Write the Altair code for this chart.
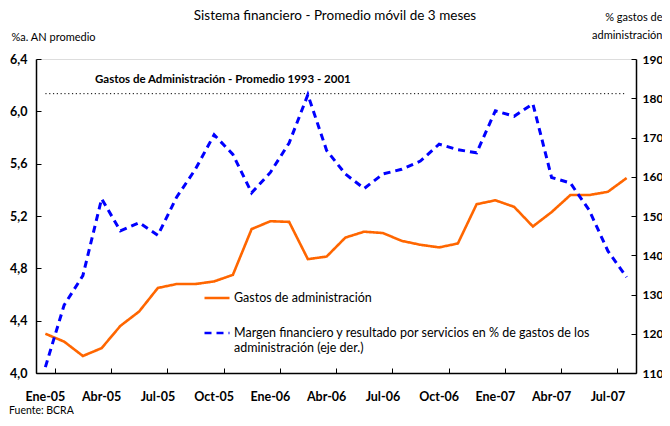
import altair as alt
import pandas as pd

FONT = "Lato"

meses = ["Ene-05", "Feb-05", "Mar-05", "Abr-05", "May-05", "Jun-05", "Jul-05", "Ago-05",
         "Sep-05", "Oct-05", "Nov-05", "Dic-05", "Ene-06", "Feb-06", "Mar-06", "Abr-06",
         "May-06", "Jun-06", "Jul-06", "Ago-06", "Sep-06", "Oct-06", "Nov-06", "Dic-06",
         "Ene-07", "Feb-07", "Mar-07", "Abr-07", "May-07", "Jun-07", "Jul-07", "Ago-07"]

gastos = [4.30, 4.24, 4.13, 4.19, 4.36, 4.47, 4.65, 4.68, 4.68, 4.70, 4.75, 5.10,
          5.16, 5.155, 4.87, 4.89, 5.035, 5.08, 5.07, 5.01, 4.98, 4.96, 4.99, 5.29,
          5.32, 5.27, 5.12, 5.23, 5.36, 5.36, 5.385, 5.49]

margen = [111.5, 127.3, 134.8, 154.4, 146.2, 148.3, 145.1, 154.8, 161.9, 170.7, 165.7, 155.9,
          161.1, 168.6, 180.9, 166.7, 160.7, 157.0, 160.7, 161.9, 164.0, 168.3, 166.9, 166.1,
          176.8, 175.4, 178.6, 159.8, 158.4, 151.5, 141.1, 134.4]

ref_valor = 6.135
ref_texto = "Gastos de Administración - Promedio 1993 - 2001"

serie_gastos = "Gastos de administración"
serie_margen = "Margen financiero y resultado por servicios en % de gastos de los administración (eje der.)"

titulo = "Sistema financiero - Promedio móvil de 3 meses"
fuente = "Fuente: BCRA"

ticks_x = meses[::3]
ticks_izq = [4.0, 4.4, 4.8, 5.2, 5.6, 6.0, 6.4]
ticks_der = [110, 120, 130, 140, 150, 160, 170, 180, 190]

df = pd.DataFrame({"mes": meses, "gastos": gastos, "margen": margen})
df_g = pd.DataFrame({"mes": meses, "gastos": gastos, "serie": serie_gastos})
df_m = pd.DataFrame({"mes": meses, "margen": margen, "serie": serie_margen})
ref_df = pd.DataFrame({"mes": [meses[0], meses[-1]], "valor": [ref_valor, ref_valor]})

W, H = 600, 314

xscale = alt.Scale(type="band", paddingInner=0, paddingOuter=0)
yl_scale = alt.Scale(domain=[4.0, 6.4], nice=False, zero=False)
yr_scale = alt.Scale(domain=[110, 190], nice=False, zero=False)
cscale = alt.Scale(domain=[serie_gastos, serie_margen], range=["#FF6600", "#0000FF"])
dscale = alt.Scale(domain=[serie_gastos, serie_margen], range=[[1, 0], [7, 5]])

legend = alt.Legend(
    title=None, orient="none", legendX=167, legendY=225,
    symbolType="stroke", symbolSize=625, symbolStrokeWidth=2.6,
    labelFont=FONT, labelFontSize=12.5, labelColor="black", labelLimit=600,
    labelOffset=3, rowPadding=14, padding=0,
    labelExpr="datum.label == '" + serie_margen + "' ? ['Margen financiero y resultado por servicios en % de gastos de los', 'administración (eje der.)'] : datum.label",
)

linea_gastos = alt.Chart(df_g).mark_line(strokeWidth=2.6).encode(
    x=alt.X("mes:O", sort=meses, scale=xscale,
            axis=alt.Axis(values=ticks_x, ticks=False, tickSize=0, labelAngle=0,
                          labelFont=FONT, labelFontWeight="bold", labelFontSize=12.5,
                          labelColor="black", labelPadding=17, domainColor="black",
                          domainWidth=1.5, title=None, grid=False, orient="bottom")),
    y=alt.Y("gastos:Q", scale=yl_scale,
            axis=alt.Axis(values=ticks_izq, orient="left", ticks=False, tickSize=0,
                          labelExpr="replace(format(datum.value, '.1f'), '.', ',')",
                          labelFont=FONT, labelFontWeight="bold", labelFontSize=12.5,
                          labelColor="black", labelPadding=9, domainColor="black",
                          domainWidth=1.5, grid=False,
                          title="%a. AN promedio", titleAngle=0, titleAlign="left",
                          titleBaseline="alphabetic", titleX=-25, titleY=-19,
                          titleFont=FONT, titleFontWeight="normal", titleFontSize=11,
                          titleColor="black")),
    color=alt.Color("serie:N", scale=cscale, legend=legend),
    strokeDash=alt.StrokeDash("serie:N", scale=dscale, legend=legend),
)

linea_margen = alt.Chart(df_m).mark_line(strokeWidth=3).encode(
    x=alt.X("mes:O", sort=meses, scale=xscale, axis=None),
    y=alt.Y("margen:Q", scale=yr_scale,
            axis=alt.Axis(values=ticks_der, orient="right", ticks=False, tickSize=0,
                          format="d", labelFont=FONT, labelFontWeight="bold",
                          labelFontSize=12, labelColor="black", labelPadding=6,
                          domainColor="black", domainWidth=1.5, grid=False,
                          title=["% gastos de", "administración"], titleAngle=0,
                          titleAlign="right", titleBaseline="alphabetic",
                          titleX=26, titleY=-39, titleLineHeight=18,
                          titleFont=FONT, titleFontWeight="normal", titleFontSize=11,
                          titleColor="black")),
    color=alt.Color("serie:N", scale=cscale, legend=legend),
    strokeDash=alt.StrokeDash("serie:N", scale=dscale, legend=legend),
)

# inward tick marks (axes shifted inside, labels/domain off)
ticks_izq_layer = alt.Chart(df).mark_line(opacity=0).encode(
    x=alt.X("mes:O", sort=meses, scale=xscale,
            axis=alt.Axis(values=ticks_x, tickBand="extent", labels=False, domain=False,
                          ticks=True, tickSize=5, tickColor="black", tickWidth=1,
                          offset=-5, title=None, grid=False, orient="bottom")),
    y=alt.Y("gastos:Q", scale=yl_scale,
            axis=alt.Axis(values=ticks_izq, orient="left", labels=False, domain=False,
                          ticks=True, tickSize=5, tickColor="black", tickWidth=1,
                          offset=-5, title=None, grid=False)),
)

ticks_der_layer = alt.Chart(df).mark_line(opacity=0).encode(
    x=alt.X("mes:O", sort=meses, scale=xscale, axis=None),
    y=alt.Y("margen:Q", scale=yr_scale,
            axis=alt.Axis(values=ticks_der, orient="right", labels=False, domain=False,
                          ticks=True, tickSize=5, tickColor="black", tickWidth=1,
                          offset=-5, title=None, grid=False)),
)

linea_ref = alt.Chart(ref_df).mark_line(color="black", strokeWidth=1, strokeDash=[1.2, 2.6]).encode(
    x=alt.X("mes:O", sort=meses, scale=xscale, axis=None),
    y=alt.Y("valor:Q", scale=yl_scale, axis=None),
)

texto_ref = alt.Chart(pd.DataFrame({"t": [ref_texto]})).mark_text(
    align="left", baseline="middle", font=FONT, fontWeight="bold", fontSize=11.5, color="black"
).encode(x=alt.value(59), y=alt.value(21), text="t:N")

texto_titulo = alt.Chart(pd.DataFrame({"t": [titulo]})).mark_text(
    align="center", baseline="middle", font=FONT, fontSize=13.5, color="black"
).encode(x=alt.value(299), y=alt.value(-43), text="t:N")

texto_fuente = alt.Chart(pd.DataFrame({"t": [fuente]})).mark_text(
    align="left", baseline="middle", font=FONT, fontSize=10.5, color="black"
).encode(x=alt.value(-27), y=alt.value(352), text="t:N")

chart = alt.layer(
    linea_ref, linea_gastos, linea_margen, ticks_izq_layer, ticks_der_layer,
    texto_ref, texto_titulo, texto_fuente
).resolve_scale(
    y="independent"
).resolve_axis(
    y="independent", x="independent"
).properties(
    width=W, height=H,
    autosize=alt.AutoSizeParams(type="none"),
    padding={"left": 28, "top": 51, "right": 26, "bottom": 45},
).configure_view(stroke=None).configure(background="white")

chart.save("out.html", embed_options={"renderer": "svg", "actions": False})
